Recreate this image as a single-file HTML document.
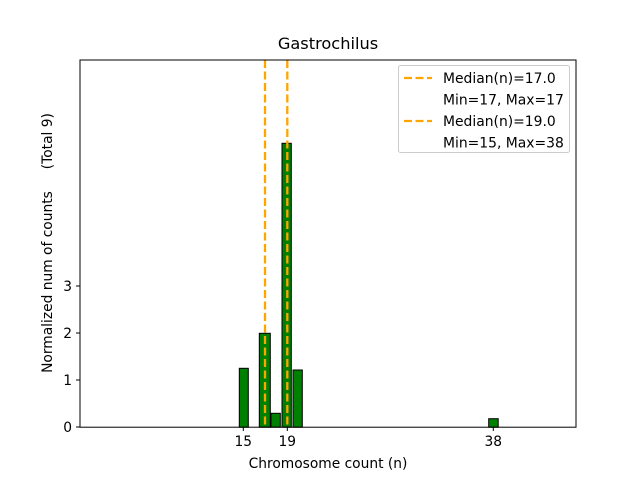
<!DOCTYPE html>
<html><head><meta charset="utf-8"><style>body{margin:0;background:#fff}svg{display:block}text{font-family:"DejaVu Sans","Liberation Sans",sans-serif;fill:#000}</style></head><body>
<svg width="640" height="480" viewBox="0 0 640 480" xmlns="http://www.w3.org/2000/svg">
<rect width="640" height="480" fill="#fff"/>
<g fill="#008000" stroke="#000" stroke-width="1">
<rect x="239.3" y="368.3" width="9" height="58.9"/>
<rect x="259.3" y="333.3" width="11" height="93.9"/>
<rect x="271" y="413.3" width="9.3" height="13.9"/>
<rect x="282" y="143.3" width="9.3" height="283.9"/>
<rect x="293" y="370" width="9.3" height="57.2"/>
<rect x="488.7" y="418.7" width="9.5" height="8.5"/>
</g>
<g stroke="#FFA500" stroke-width="2.3" stroke-dasharray="8,3.5">
<line x1="265" y1="60" x2="265" y2="427"/>
<line x1="287.3" y1="60" x2="287.3" y2="427"/>
</g>
<rect x="80" y="60" width="496" height="367.2" fill="none" stroke="#000" stroke-width="1"/>
<g stroke="#000" stroke-width="1">
<line x1="243.3" y1="427" x2="243.3" y2="431"/>
<line x1="287.3" y1="427" x2="287.3" y2="431"/>
<line x1="493.3" y1="427" x2="493.3" y2="431"/>
<line x1="76" y1="427" x2="80" y2="427"/>
<line x1="76" y1="380" x2="80" y2="380"/>
<line x1="76" y1="333" x2="80" y2="333"/>
<line x1="76" y1="286" x2="80" y2="286"/>
</g>
<g font-size="13.8" text-anchor="middle">
<text x="243.3" y="446">15</text>
<text x="287.3" y="446">19</text>
<text x="493.3" y="446">38</text>
<text x="328" y="468">Chromosome count (n)</text>
</g>
<g font-size="13.8" text-anchor="end">
<text x="72" y="432">0</text>
<text x="72" y="385">1</text>
<text x="72" y="338">2</text>
<text x="72" y="291">3</text>
</g>
<text x="328" y="49" font-size="16.2" text-anchor="middle">Gastrochilus</text>
<text transform="translate(52,243) rotate(-90)" font-size="13.8" text-anchor="middle" xml:space="preserve">Normalized num of counts     (Total 9)</text>
<rect x="398.5" y="65.5" width="171" height="87" rx="2" fill="#fff" stroke="#ccc" stroke-width="1"/>
<g font-size="13.9">
<text x="443" y="83">Median(n)=17.0</text>
<text x="443" y="104.5">Min=17, Max=17</text>
<text x="443" y="126">Median(n)=19.0</text>
<text x="443" y="147.5">Min=15, Max=38</text>
</g>
<g stroke="#FFA500" stroke-width="2.3" stroke-dasharray="8,3.5">
<line x1="404" y1="78" x2="432" y2="78"/>
<line x1="404" y1="121" x2="432" y2="121"/>
</g>
</svg>
</body></html>
